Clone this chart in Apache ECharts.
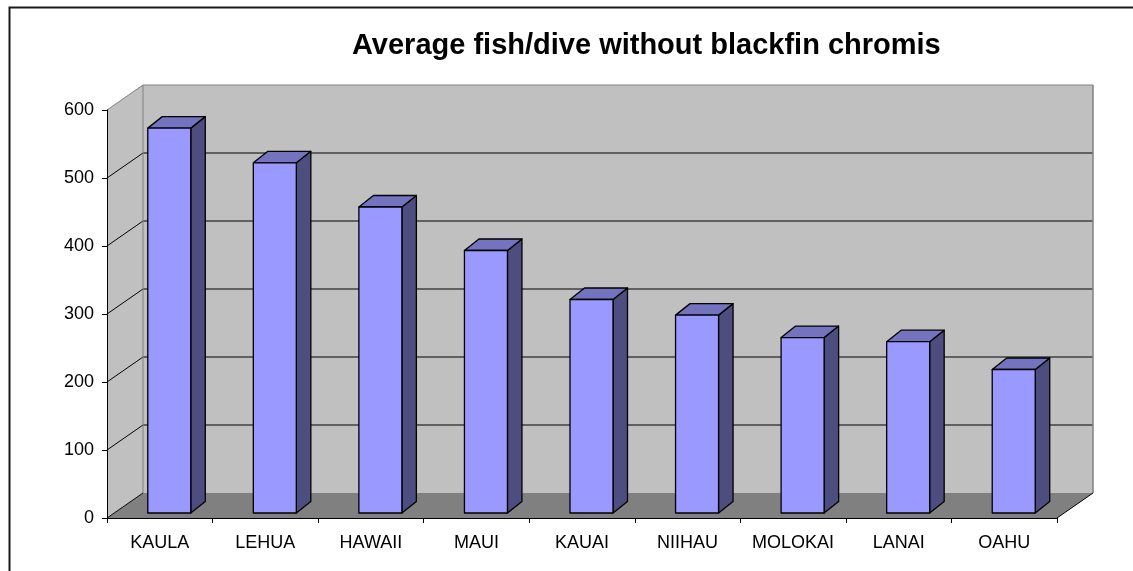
<!DOCTYPE html>
<html>
<head>
<meta charset="utf-8">
<title>Average fish/dive without blackfin chromis</title>
<script src="https://cdn.jsdelivr.net/npm/echarts@6/dist/echarts.min.js"></script>
<style>
  html, body { margin: 0; padding: 0; background: #fff; }
  #chart { width: 1133px; height: 571px; }
</style>
</head>
<body>
<div id="chart"></div>
<script>
// Islands and their average fish count per dive (blackfin chromis excluded)
const categories = ['KAULA', 'LEHUA', 'HAWAII', 'MAUI', 'KAUAI', 'NIIHAU', 'MOLOKAI', 'LANAI', 'OAHU'];
const fishPerDive = [566, 515, 450, 386, 314, 291, 258, 252, 211];
const yTicks = [0, 100, 200, 300, 400, 500, 600];

// Oblique 3D look: depth offset of the back wall, and of the bar boxes
const WALL_DX = 36, WALL_DY = -25;
const BAR_SHIFT_X = 9.5, BAR_SHIFT_Y = -5;
const BAR_W = 43, BAR_DX = 14.5, BAR_DY = -11.5;

const FONT = 'Liberation Sans, Arial, sans-serif';

const chart = echarts.init(document.getElementById('chart'), null, { renderer: 'canvas' });

function renderWalls(params, api) {
  const cs = params.coordSys;
  const x0 = cs.x, x1 = cs.x + cs.width;
  const yMin = yTicks[0], yMax = yTicks[yTicks.length - 1];
  const yb = api.coord([0, yMin])[1];
  const yt = api.coord([0, yMax])[1];
  const children = [];
  // floor
  children.push({
    type: 'polygon',
    shape: { points: [[x0, yb], [x1, yb], [x1 + WALL_DX, yb + WALL_DY], [x0 + WALL_DX, yb + WALL_DY]] },
    style: { fill: '#808080', stroke: null }
  });
  // left side wall
  children.push({
    type: 'polygon',
    shape: { points: [[x0, yb], [x0, yt], [x0 + WALL_DX, yt + WALL_DY], [x0 + WALL_DX, yb + WALL_DY]] },
    style: { fill: '#c0c0c0', stroke: null }
  });
  // back wall
  children.push({
    type: 'rect',
    shape: { x: x0 + WALL_DX, y: yt + WALL_DY, width: x1 - x0, height: yb - yt },
    style: { fill: '#c0c0c0', stroke: null }
  });
  // gridlines across the side wall and back wall
  yTicks.forEach(function (v) {
    if (v === yMin) return;
    const y = api.coord([0, v])[1];
    const edge = v === yMax;
    children.push({
      type: 'polyline',
      shape: { points: [[x0, y], [x0 + WALL_DX, y + WALL_DY], [x1 + WALL_DX, y + WALL_DY]] },
      style: { fill: null, stroke: edge ? '#808080' : '#000', lineWidth: 1 }
    });
  });
  // wall corner and right edge of back wall
  children.push({
    type: 'line',
    shape: { x1: x0 + WALL_DX, y1: yt + WALL_DY, x2: x0 + WALL_DX, y2: yb + WALL_DY },
    style: { stroke: '#808080', lineWidth: 1 }
  });
  children.push({
    type: 'line',
    shape: { x1: x1 + WALL_DX, y1: yt + WALL_DY, x2: x1 + WALL_DX, y2: yb + WALL_DY },
    style: { stroke: '#808080', lineWidth: 1.5 }
  });
  // floor side edges
  children.push({
    type: 'line',
    shape: { x1: x1, y1: yb, x2: x1 + WALL_DX, y2: yb + WALL_DY },
    style: { stroke: '#000', lineWidth: 1 }
  });
  children.push({
    type: 'line',
    shape: { x1: x0, y1: yb, x2: x0 + WALL_DX, y2: yb + WALL_DY },
    style: { stroke: '#000', lineWidth: 1 }
  });
  return { type: 'group', children: children };
}

function renderBar(params, api) {
  const base = api.coord([api.value(0), 0]);
  const top = api.coord([api.value(0), api.value(1)]);
  const L = base[0] + BAR_SHIFT_X - BAR_W / 2;
  const R = L + BAR_W;
  const T = top[1] + BAR_SHIFT_Y;
  const B = base[1] + BAR_SHIFT_Y;
  const edge = { stroke: '#000', lineWidth: 1.3, lineJoin: 'round' };
  return {
    type: 'group',
    children: [
      {
        type: 'polygon',
        shape: { points: [[R, T], [R + BAR_DX, T + BAR_DY], [R + BAR_DX, B + BAR_DY], [R, B]] },
        style: Object.assign({ fill: '#4d4d80' }, edge)
      },
      {
        type: 'polygon',
        shape: { points: [[L, T], [R, T], [R + BAR_DX, T + BAR_DY], [L + BAR_DX, T + BAR_DY]] },
        style: Object.assign({ fill: '#7373bf' }, edge)
      },
      {
        type: 'rect',
        shape: { x: L, y: T, width: BAR_W, height: B - T },
        style: Object.assign({ fill: '#9999ff' }, edge)
      }
    ]
  };
}

const option = {
  animation: false,
  backgroundColor: '#ffffff',
  textStyle: { fontFamily: FONT },
  title: {
    text: 'Average fish/dive without blackfin chromis',
    left: 347,
    top: 26,
    textStyle: { fontFamily: FONT, fontSize: 29, fontWeight: 'bold', color: '#000' }
  },
  graphic: [
    {
      type: 'rect',
      left: 7, top: 5,
      shape: { x: 0, y: 0, width: 1140, height: 600 },
      style: { fill: null, stroke: '#1a1a1a', lineWidth: 2 },
      z: 10
    }
  ],
  grid: { left: 107, right: 76, top: 110, bottom: 53, containLabel: false },
  xAxis: {
    type: 'category',
    data: categories,
    boundaryGap: true,
    z: 5,
    axisLine: { show: true, lineStyle: { color: '#000', width: 1 } },
    axisTick: { show: true, interval: 0, length: 5, lineStyle: { color: '#000' } },
    axisLabel: { color: '#000', fontSize: 18, margin: 16, interval: 0, hideOverlap: false, fontFamily: FONT },
    splitLine: { show: false }
  },
  yAxis: {
    type: 'value',
    min: yTicks[0],
    max: yTicks[yTicks.length - 1],
    interval: 100,
    z: 5,
    axisLine: { show: true, lineStyle: { color: '#000', width: 1 } },
    axisTick: { show: true, length: 5, lineStyle: { color: '#000' } },
    axisLabel: { color: '#000', fontSize: 18, margin: 13, fontFamily: FONT },
    splitLine: { show: false }
  },
  series: [
    {
      type: 'custom',
      name: 'walls',
      z: 1,
      silent: true,
      renderItem: renderWalls,
      data: [[0, 0]],
      encode: { x: 0, y: 1 }
    },
    {
      type: 'custom',
      name: 'fish/dive',
      z: 2,
      renderItem: renderBar,
      data: categories.map(function (c, i) { return [i, fishPerDive[i]]; }),
      encode: { x: 0, y: 1 }
    }
  ]
};

chart.setOption(option);
</script>
</body>
</html>
